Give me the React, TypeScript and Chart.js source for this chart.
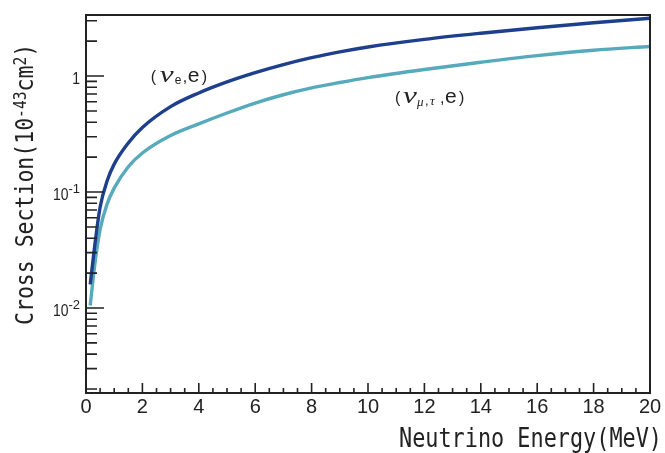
import React, { useEffect, useRef } from "react";
import { Chart, registerables } from "chart.js";

Chart.register(...registerables);

// ---- data ----
const energies = [0.15, 0.3, 0.5, 0.75, 1, 1.5, 2, 3, 4, 5, 6, 7, 8, 9, 10, 12, 14, 16, 18, 20];
const sigmaNuE = [0.016, 0.033, 0.074, 0.125, 0.174, 0.265, 0.36, 0.545, 0.715, 0.89, 1.07, 1.255, 1.44, 1.615, 1.78, 2.07, 2.34, 2.61, 2.88, 3.15];
const sigmaNuMuTau = [0.0105, 0.0225, 0.0475, 0.079, 0.108, 0.165, 0.217, 0.307, 0.387, 0.48, 0.585, 0.69, 0.79, 0.88, 0.97, 1.14, 1.315, 1.5, 1.67, 1.8];

const xMin = 0;
const xMax = 20;
const yMin = 0.00185;
const yMax = 3.36;

const xMajorTicks = [0, 2, 4, 6, 8, 10, 12, 14, 16, 18, 20];
const xTickLabels = ["0", "2", "4", "6", "8", "10", "12", "14", "16", "18", "20"];
const xMinorTicks = [0.5, 1, 1.5, 2.5, 3, 3.5, 4.5, 5, 5.5, 6.5, 7, 7.5, 8.5, 9, 9.5, 10.5, 11, 11.5, 12.5, 13, 13.5, 14.5, 15, 15.5, 16.5, 17, 17.5, 18.5, 19, 19.5];

const yMajorTicks = [0.01, 0.1, 1];
const yTickBase = ["10", "10", "1"];
const yTickExp = ["-2", "-1", ""];
const yMinorTicks = [
  0.002, 0.003, 0.004, 0.005, 0.006, 0.007, 0.008, 0.009,
  0.02, 0.03, 0.04, 0.05, 0.06, 0.07, 0.08, 0.09,
  0.2, 0.3, 0.4, 0.5, 0.6, 0.7, 0.8, 0.9,
  2, 3,
];

const xTitle = "Neutrino Energy(MeV)";
const yTitleParts = [
  { t: "Cross Section(10", sup: false },
  { t: "-43", sup: true },
  { t: "cm", sup: false },
  { t: "2", sup: true },
  { t: ")", sup: false },
];

// annotation anchors (data coordinates: energy, cross section)
const labelNuE = { x: 2.3, y: 0.888 };
const labelNuMuTau = { x: 10.96, y: 0.585 };

const colorNuE = "#1d3f8c";
const colorNuMuTau = "#56aabc";
const ink = "#222222";

function drawScaled(ctx: CanvasRenderingContext2D, text: string, x: number, y: number, font: string, sx: number) {
  ctx.save();
  ctx.translate(x, y);
  ctx.scale(sx, 1);
  ctx.font = font;
  ctx.fillText(text, 0, 0);
  ctx.restore();
}

const framePlugin = {
  id: "frameAndText",
  afterDatasetsDraw(chart: any) {
    const ctx: CanvasRenderingContext2D = chart.ctx;
    const { left, right, top, bottom } = chart.chartArea;
    const xs = chart.scales.x;
    const ys = chart.scales.y;
    ctx.save();
    ctx.fillStyle = ink;
    ctx.strokeStyle = ink;

    // frame
    ctx.lineWidth = 2;
    ctx.strokeRect(left, top, right - left, bottom - top);

    // ticks (inward)
    ctx.lineWidth = 1.6;
    ctx.beginPath();
    yMajorTicks.forEach((v) => {
      const py = ys.getPixelForValue(v);
      ctx.moveTo(left, py);
      ctx.lineTo(left + 18, py);
    });
    yMinorTicks.forEach((v) => {
      const py = ys.getPixelForValue(v);
      ctx.moveTo(left, py);
      ctx.lineTo(left + 11, py);
    });
    xMajorTicks.forEach((v) => {
      const px = xs.getPixelForValue(v);
      ctx.moveTo(px, bottom);
      ctx.lineTo(px, bottom - 10);
    });
    xMinorTicks.forEach((v) => {
      const px = xs.getPixelForValue(v);
      ctx.moveTo(px, bottom);
      ctx.lineTo(px, bottom - 5);
    });
    ctx.stroke();

    // x tick labels
    ctx.textBaseline = "alphabetic";
    ctx.textAlign = "center";
    ctx.font = '20px "Liberation Sans", Arial, sans-serif';
    xMajorTicks.forEach((v, i) => {
      const px = xs.getPixelForValue(v);
      ctx.fillText(xTickLabels[i], px, bottom + 20);
    });

    // y tick labels
    ctx.textAlign = "left";
    const baseFont = '17px "Liberation Sans", Arial, sans-serif';
    const expFont = '13px "Liberation Sans", Arial, sans-serif';
    const baseSx = 0.82;
    yMajorTicks.forEach((v, i) => {
      const py = ys.getPixelForValue(v);
      const base = yTickBase[i];
      const exp = yTickExp[i];
      ctx.font = baseFont;
      const bw = ctx.measureText(base).width * baseSx;
      ctx.font = expFont;
      const ew = exp ? ctx.measureText(exp).width : 0;
      const rx = left - 6;
      drawScaled(ctx, base, rx - ew - bw, py + 7.5, baseFont, baseSx);
      if (exp) {
        ctx.font = expFont;
        ctx.fillText(exp, rx - ew, py + 1);
      }
    });

    // x title (right aligned, condensed monospace)
    const titleFont = '26px "DejaVu Sans Mono", monospace';
    const titleSx = 0.84;
    ctx.font = titleFont;
    const xtw = ctx.measureText(xTitle).width * titleSx;
    drawScaled(ctx, xTitle, 662 - xtw, bottom + 54, titleFont, titleSx);

    // y title (rotated)
    const yFont = '25px "DejaVu Sans Mono", monospace';
    const ySupFont = '17px "DejaVu Sans Mono", monospace';
    const ySx = 0.86;
    ctx.save();
    ctx.translate(33, 325);
    ctx.rotate(-Math.PI / 2);
    ctx.scale(ySx, 1);
    let cx = 0;
    yTitleParts.forEach((p) => {
      ctx.font = p.sup ? ySupFont : yFont;
      ctx.fillText(p.t, cx, p.sup ? -7 : 0);
      cx += ctx.measureText(p.t).width;
    });
    ctx.restore();

    // curve annotations
    const sans = '"Liberation Sans", Arial, sans-serif';
    const nuFont = 'italic 24px "Liberation Serif", "Times New Roman", serif';
    const subSerif = 'italic 13px "Liberation Serif", "Times New Roman", serif';
    {
      const ax = xs.getPixelForValue(labelNuE.x);
      const ay = ys.getPixelForValue(labelNuE.y);
      ctx.font = `16px ${sans}`;
      ctx.fillText("(", ax, ay);
      drawScaled(ctx, "ν", ax + 9, ay, nuFont, 1.3);
      ctx.font = `12px ${sans}`;
      ctx.fillText("e", ax + 24, ay + 2);
      ctx.font = `16px ${sans}`;
      ctx.fillText(",", ax + 32, ay);
      ctx.font = `21px ${sans}`;
      ctx.fillText("e", ax + 37, ay);
      ctx.font = `16px ${sans}`;
      ctx.fillText(")", ax + 51, ay);
    }
    {
      const ax = xs.getPixelForValue(labelNuMuTau.x);
      const ay = ys.getPixelForValue(labelNuMuTau.y);
      ctx.font = `16px ${sans}`;
      ctx.fillText("(", ax, ay);
      drawScaled(ctx, "ν", ax + 8, ay, nuFont, 1.3);
      ctx.font = subSerif;
      ctx.fillText("μ", ax + 22, ay + 3);
      ctx.font = `13px ${sans}`;
      ctx.fillText(",", ax + 30, ay + 2);
      ctx.font = subSerif;
      ctx.fillText("τ", ax + 35, ay + 2);
      ctx.font = `16px ${sans}`;
      ctx.fillText(",", ax + 45, ay);
      ctx.font = `21px ${sans}`;
      ctx.fillText("e", ax + 50, ay);
      ctx.font = `16px ${sans}`;
      ctx.fillText(")", ax + 64, ay);
    }

    ctx.restore();
  },
};

export default function App() {
  const ref = useRef<HTMLCanvasElement>(null);

  useEffect(() => {
    document.body.style.margin = "0";
    const canvas = ref.current;
    if (!canvas) return;
    const chart = new Chart(canvas, {
      type: "line",
      data: {
        datasets: [
          {
            label: "(νe, e)",
            data: energies.map((e, i) => ({ x: e, y: sigmaNuE[i] })),
            borderColor: colorNuE,
            backgroundColor: colorNuE,
            borderWidth: 3.4,
            pointRadius: 0,
            fill: false,
            cubicInterpolationMode: "monotone",
          },
          {
            label: "(νμ,τ, e)",
            data: energies.map((e, i) => ({ x: e, y: sigmaNuMuTau[i] })),
            borderColor: colorNuMuTau,
            backgroundColor: colorNuMuTau,
            borderWidth: 3.4,
            pointRadius: 0,
            fill: false,
            cubicInterpolationMode: "monotone",
          },
        ],
      },
      options: {
        animation: false,
        responsive: false,
        maintainAspectRatio: false,
        devicePixelRatio: 1,
        layout: { padding: { top: 15, right: 15, left: 0, bottom: 0 } },
        plugins: { legend: { display: false }, tooltip: { enabled: false } },
        scales: {
          x: {
            type: "linear",
            min: xMin,
            max: xMax,
            grid: { display: false },
            border: { display: false },
            ticks: { display: false },
            afterFit: (s: any) => {
              s.height = 60;
            },
          },
          y: {
            type: "logarithmic",
            min: yMin,
            max: yMax,
            grid: { display: false },
            border: { display: false },
            ticks: { display: false },
            afterFit: (s: any) => {
              s.width = 86;
            },
          },
        },
      } as any,
      plugins: [framePlugin],
    });
    return () => chart.destroy();
  }, []);

  return (
    <div style={{ width: 665, height: 453, background: "#ffffff" }}>
      <canvas ref={ref} width={665} height={453} style={{ display: "block" }} />
    </div>
  );
}
